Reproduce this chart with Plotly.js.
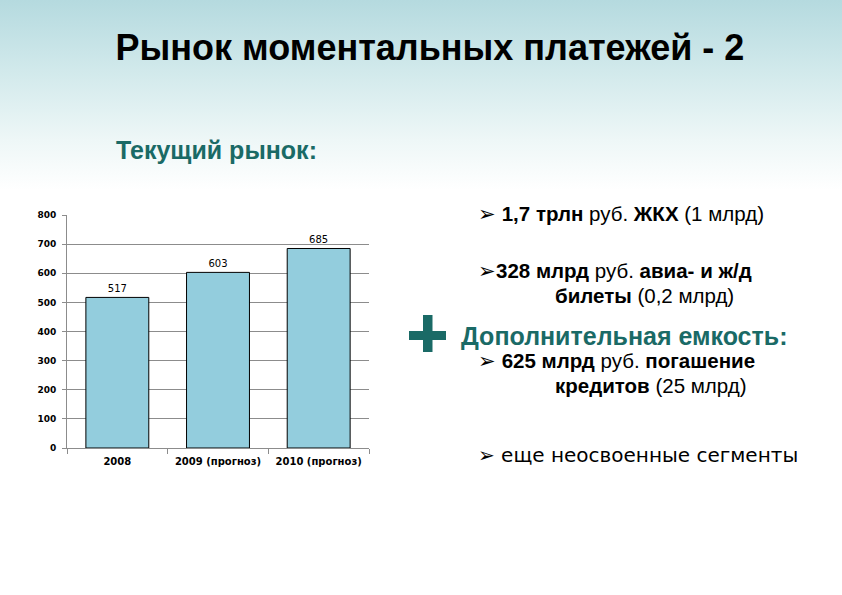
<!DOCTYPE html>
<html>
<head>
<meta charset="utf-8">
<script src="https://cdn.plot.ly/plotly-3.0.1.min.js"></script>
<style>
html,body{margin:0;padding:0;}
body{width:842px;height:595px;background:linear-gradient(to bottom,#b5dadf 0px,#d3eaec 75px,#eef7f7 140px,#ffffff 190px,#ffffff 595px);}
#chart{width:842px;height:595px;}
</style>
</head>
<body>
<div id="chart"></div>
<script>
// ---- data ----
const categories = ['2008', '2009 (прогноз)', '2010 (прогноз)'];
const values = [517, 603, 685];
const valueLabels = ['517', '603', '685'];
const yTickValues = [0, 100, 200, 300, 400, 500, 600, 700, 800];
const yTickLabels = ['0', '100', '200', '300', '400', '500', '600', '700', '800'];

const titleText = 'Рынок моментальных платежей - 2';
const subtitleText = 'Текущий рынок:';
const bulletLines = [
  '➢ <b>1,7 трлн</b> руб. <b>ЖКХ</b> (1 млрд)',
  '➢<b>328 млрд</b> руб. <b>авиа- и ж/д</b>',
  '<b>билеты</b> (0,2 млрд)',
  '➢ <b>625 млрд</b> руб. <b>погашение</b>',
  '<b>кредитов</b> (25 млрд)'
];
const extraHeading = 'Дополнительная емкость:';
const lastBullet = '➢ еще неосвоенные сегменты';

// ---- layout helpers (pixel -> paper) ----
const W = 842, H = 595;
const L = 67, R = 369, T = 215, B = 448;
const px = x => (x - L) / (R - L);
const py = y => (B - y) / (B - T);

const teal = '#1a6a66';
const textFont = {family: 'Liberation Sans, Arial, sans-serif', size: 20.5, color: '#000'};
const yTickFont = {family: 'DejaVu Sans, Verdana, sans-serif', size: 9, color: '#000', weight: 'bold'};
const xTickFont = {family: 'DejaVu Sans, Verdana, sans-serif', size: 10, color: '#000', weight: 'bold'};

const trace = {
  type: 'bar',
  x: categories,
  y: values,
  text: valueLabels,
  textposition: 'outside',
  cliponaxis: false,
  textfont: {family: 'DejaVu Sans, Verdana, sans-serif', size: 10, color: '#000'},
  marker: {color: '#93cddd', line: {color: '#000', width: 1}},
  width: 0.625,
  hoverinfo: 'none'
};

const ann = (text, x, y, font, anchor) => ({
  text: text, xref: 'paper', yref: 'paper', x: px(x), y: py(y),
  xanchor: anchor || 'left', yanchor: 'middle', showarrow: false, font: font
});

const annotations = [
  ann('<b>' + subtitleText + '</b>', 114, 150, {family: 'Liberation Sans, Arial, sans-serif', size: 25, color: teal}),
  ann(bulletLines[0], 476, 214, textFont),
  ann(bulletLines[1], 476, 270, textFont),
  ann(bulletLines[2], 553, 295, textFont),
  ann('<b>' + extraHeading + '</b>', 459, 336, {family: 'Liberation Sans, Arial, sans-serif', size: 25, color: teal}),
  ann(bulletLines[3], 476, 360, textFont),
  ann(bulletLines[4], 553, 385, textFont),
  ann(lastBullet, 476, 455, {family: 'DejaVu Sans, Verdana, sans-serif', size: 20, color: '#000'})
];

const shapes = [
  {type: 'rect', xref: 'paper', yref: 'paper', x0: px(409), x1: px(446), y0: py(331), y1: py(340), fillcolor: teal, line: {width: 0}},
  {type: 'rect', xref: 'paper', yref: 'paper', x0: px(423), x1: px(432.5), y0: py(315), y1: py(352), fillcolor: teal, line: {width: 0}}
];

const layout = {
  width: W, height: H,
  margin: {l: L, r: W - R, t: T, b: H - B, pad: 0},
  paper_bgcolor: 'rgba(0,0,0,0)',
  plot_bgcolor: 'rgba(0,0,0,0)',
  showlegend: false,
  title: {
    text: '<b>' + titleText + '</b>',
    x: 430 / W, xanchor: 'center', xref: 'container',
    y: 1 - 47 / H, yanchor: 'middle', yref: 'container',
    font: {family: 'Liberation Sans, Arial, sans-serif', size: 36, color: '#000'}
  },
  xaxis: {
    type: 'category',
    showline: true, linecolor: '#8c8c8c', linewidth: 1,
    ticks: 'outside', tickson: 'boundaries', ticklen: 5, tickcolor: '#8c8c8c',
    showgrid: false,
    ticklabelstandoff: 4,
    tickfont: xTickFont,
    fixedrange: true
  },
  yaxis: {
    range: [0, 800],
    tickvals: yTickValues, ticktext: yTickLabels,
    showline: true, linecolor: '#8c8c8c', linewidth: 1,
    ticks: 'outside', ticklen: 4, tickcolor: '#8c8c8c',
    showgrid: true, gridcolor: '#8c8c8c', gridwidth: 1,
    zeroline: false,
    ticklabelstandoff: 4,
    tickfont: yTickFont,
    fixedrange: true
  },
  bargap: 0.375,
  annotations: annotations,
  shapes: shapes
};

Plotly.newPlot('chart', [trace], layout, {displayModeBar: false, staticPlot: true});
</script>
</body>
</html>
